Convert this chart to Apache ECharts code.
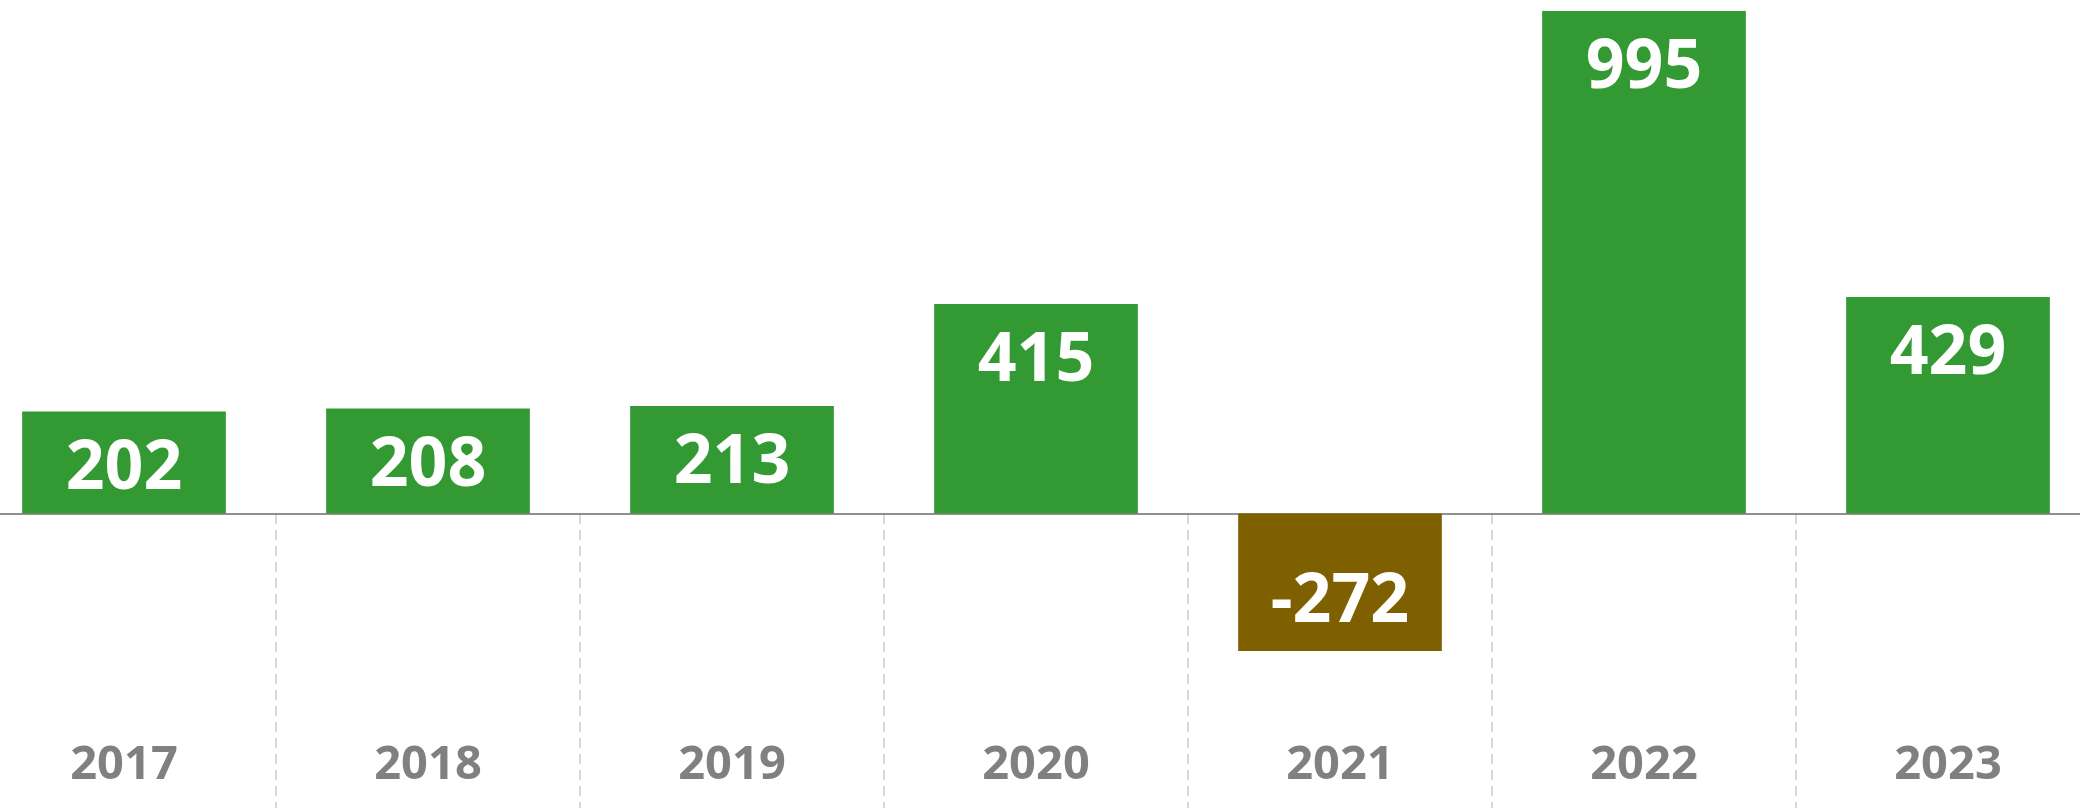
<!DOCTYPE html>
<html style="height: 100%">

<head>
    <meta charset="utf-8">
</head>

<body style="height: 100%; margin: 0; background: #fff">
    <div id="container" style="width: 2080px; height: 808px"></div>
    <script src="https://cdn.jsdelivr.net/npm/echarts@6/dist/echarts.min.js"></script>
    <script type="text/javascript">
        var years = ['2017', '2018', '2019', '2020', '2021', '2022', '2023'];
        var values = [202, 208, 213, 415, -272, 995, 429];

        var dom = document.getElementById("container");
        var myChart = echarts.init(dom);

        var green = '#339933';
        var brown = '#7f6000';

        var barData = values.map(function(v) {
            var item = {
                value: v,
                itemStyle: {
                    color: v < 0 ? brown : green
                }
            };
            if (v < 0) {
                item.label = {
                    position: 'inside',
                    offset: [0, 20]
                };
            }
            return item;
        });

        var option = {
            animation: false,
            grid: [{
                outerBoundsMode: 'none',
                left: -28,
                width: 2128,
                top: 0,
                bottom: 0
            }, {
                outerBoundsMode: 'none',
                left: -28,
                width: 2128,
                top: 514,
                bottom: 0
            }],
            xAxis: [{
                type: 'category',
                gridIndex: 0,
                data: years,
                axisLine: {
                    onZero: true,
                    lineStyle: {
                        color: '#6b6b6b',
                        width: 1.5
                    }
                },
                axisTick: { show: false },
                axisLabel: { show: false },
                splitLine: { show: false }
            }, {
                type: 'category',
                gridIndex: 1,
                data: years,
                axisLine: { show: false },
                axisTick: { show: false },
                axisLabel: {
                    inside: true,
                    interval: 0,
                    margin: 19,
                    color: '#808080',
                    fontFamily: 'Noto Sans',
                    fontWeight: 'bold',
                    fontSize: 47
                },
                splitLine: {
                    show: true,
                    interval: 0,
                    lineStyle: {
                        color: '#cccccc',
                        width: 1.5,
                        type: [10, 6]
                    }
                }
            }],
            yAxis: [{
                type: 'value',
                gridIndex: 0,
                min: -583,
                max: 1017,
                show: false
            }, {
                type: 'value',
                gridIndex: 1,
                show: false
            }],
            series: [{
                type: 'bar',
                xAxisIndex: 0,
                yAxisIndex: 0,
                barWidth: '67%',
                data: barData,
                label: {
                    show: true,
                    position: 'insideTop',
                    distance: 24,
                    color: '#ffffff',
                    fontFamily: 'Noto Sans',
                    fontWeight: 'bold',
                    fontSize: 68
                }
            }]
        };

        myChart.setOption(option);
    </script>
</body>

</html>
